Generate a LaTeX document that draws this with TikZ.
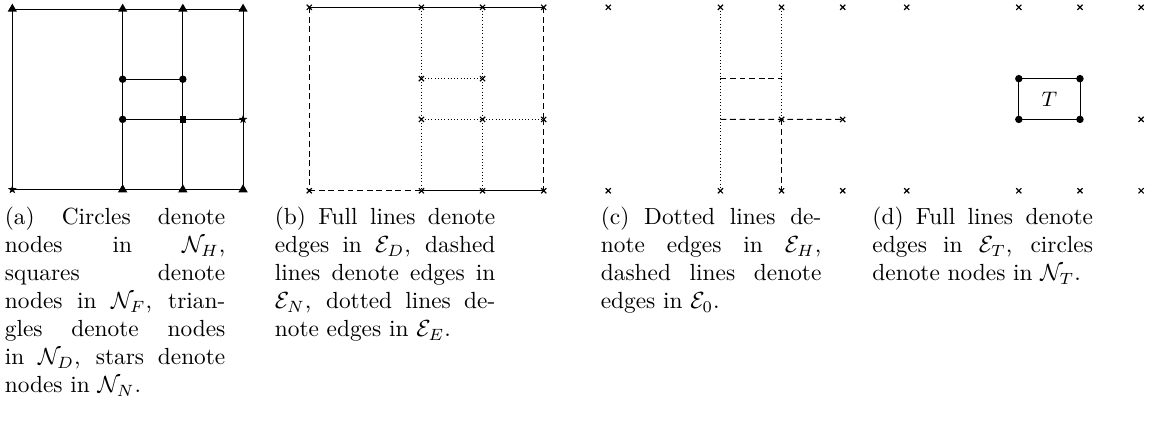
\documentclass[tikz,border=0pt]{standalone}
\usepackage{tikz}
\usetikzlibrary{positioning, shapes.geometric, shapes.misc, backgrounds}

\tikzset{
  hnode/.style={circle, fill=black, inner sep=0pt, minimum size=3.2pt},
  fnode/.style={rectangle, fill=black, inner sep=0pt, minimum size=2.8pt},
  dnode/.style={regular polygon, regular polygon sides=3, fill=black, inner sep=0pt, minimum size=4.6pt},
  nnode/.style={star, star points=5, star point ratio=2.6, fill=black, inner sep=0pt, minimum size=4pt},
  xnode/.style={cross out, draw=black, line width=0.5pt, inner sep=0pt, minimum size=1.7pt},
  dashline/.style={dash pattern=on 2.5pt off 1.6pt},
  dotline/.style={densely dotted},
  caption/.style={text width=94.5pt, align=justify, inner sep=0pt, anchor=north west}
}

% grid positions of one panel
\newcommand{\gridpts}[1]{%
  \foreach \c/\x in {0/0,1/11,2/17,3/23}
    \foreach \r/\y in {0/0,1/-7,2/-11,3/-18}
      \coordinate (#1-\c-\r) at (\x,\y);
}

\begin{document}
\begin{tikzpicture}[x=4.286pt, y=4.286pt]
\useasboundingbox (0,0) rectangle (115.5,-43);

% ================= (a) nodes =================
\begin{scope}[shift={(1.23,-0.9)}, scale=1.003]
    \gridpts{pa}
    \foreach \p/\s in {0-0/dnode,1-0/dnode,2-0/dnode,3-0/dnode,
                       1-1/hnode,2-1/hnode,1-2/hnode,2-2/fnode,3-2/nnode,
                       0-3/nnode,1-3/dnode,2-3/dnode,3-3/dnode}
        \node[\s] (a-\p) at (pa-\p) {};
    \begin{scope}[on background layer]
    \foreach \u/\v in {0-0/1-0,1-0/2-0,2-0/3-0,0-3/1-3,1-3/2-3,2-3/3-3,
                       0-0/0-3,3-0/3-2,3-2/3-3,
                       1-0/1-1,1-1/1-2,1-2/1-3,2-0/2-1,2-1/2-2,2-2/2-3,
                       1-1/2-1,1-2/2-2,2-2/3-2}
        \draw (a-\u.center) -- (a-\v.center);
    \end{scope}
\end{scope}

% ================= (b) edges =================
\begin{scope}[shift={(30.93,-0.73)}, scale=1.019]
    \gridpts{pb}
    \foreach \p in {0-0,1-0,2-0,3-0,1-1,2-1,1-2,2-2,3-2,0-3,1-3,2-3,3-3}
        \node[xnode] (b-\p) at (pb-\p) {};
    \begin{scope}[on background layer]
    \foreach \u/\v/\s in {0-0/1-0/solid,1-0/2-0/solid,2-0/3-0/solid,
                          0-3/1-3/dashline,1-3/2-3/solid,2-3/3-3/solid,
                          0-0/0-3/dashline,3-0/3-2/dashline,3-2/3-3/dashline,
                          1-0/1-1/dotline,1-1/1-2/dotline,1-2/1-3/dotline,
                          2-0/2-1/dotline,2-1/2-2/dotline,2-2/2-3/dotline,
                          1-1/2-1/dotline,1-2/2-2/dotline,2-2/3-2/dotline}
        \draw[\s] (b-\u.center) -- (b-\v.center);
    \end{scope}
\end{scope}

% ================= (c) edges =================
\begin{scope}[shift={(60.83,-0.73)}, scale=1.019]
    \gridpts{pc}
    \foreach \p in {0-0,1-0,2-0,3-0,2-2,3-2,0-3,1-3,2-3,3-3}
        \node[xnode] (c-\p) at (pc-\p) {};
    \begin{scope}[on background layer]
    \draw[dotline] (c-1-0.center) -- (c-1-3.center);
    \draw[dotline] (c-2-0.center) -- (c-2-2.center);
    \draw[dashline] (pc-1-1) -- (pc-2-1);
    \draw[dashline] (pc-1-2) -- (c-2-2.center) -- (c-3-2.center);
    \draw[dashline] (c-2-2.center) -- (c-2-3.center);
    \end{scope}
\end{scope}

% ================= (d) T =================
\begin{scope}[shift={(90.67,-0.73)}, scale=1.019]
    \gridpts{pd}
    \foreach \p/\s in {0-0/xnode,1-0/xnode,2-0/xnode,3-0/xnode,
                       1-1/hnode,2-1/hnode,1-2/hnode,2-2/hnode,3-2/xnode,
                       0-3/xnode,1-3/xnode,2-3/xnode,3-3/xnode}
        \node[\s] (d-\p) at (pd-\p) {};
    \begin{scope}[on background layer]
    \draw (d-1-1.center) -- (d-2-1.center) -- (d-2-2.center) -- (d-1-2.center) -- cycle;
    \end{scope}
    \node[font=\small] (tset) at (14,-9) {$T$};
\end{scope}

% captions
\node[caption] (capa) at (0.44,-20.67) {\tolerance=10000
    (a) Circles denote\linebreak nodes in $\mathcal{N}_H$,\linebreak
    squares denote\linebreak nodes in $\mathcal{N}_F$, trian-\linebreak
    gles denote nodes\linebreak in $\mathcal{N}_D$, stars denote\linebreak
    nodes in $\mathcal{N}_N$.};
\node[caption] (capb) at (27.44,-20.67) {\tolerance=10000
    (b) Full lines denote\linebreak edges in $\mathcal{E}_D$, dashed\linebreak
    lines denote edges in\linebreak $\mathcal{E}_N$, dotted lines de-\linebreak
    note edges in $\mathcal{E}_E$.};
\node[caption] (capc) at (60.04,-20.67) {\tolerance=10000
    (c) Dotted lines de-\linebreak note edges in $\mathcal{E}_H$,\linebreak
    dashed lines denote\linebreak edges in $\mathcal{E}_0$.};
\node[caption] (capd) at (87.2,-20.67) {\tolerance=10000
    (d) Full lines denote\linebreak edges in $\mathcal{E}_T$, circles\linebreak
    denote nodes in $\mathcal{N}_T$.};

\end{tikzpicture}
\end{document}
